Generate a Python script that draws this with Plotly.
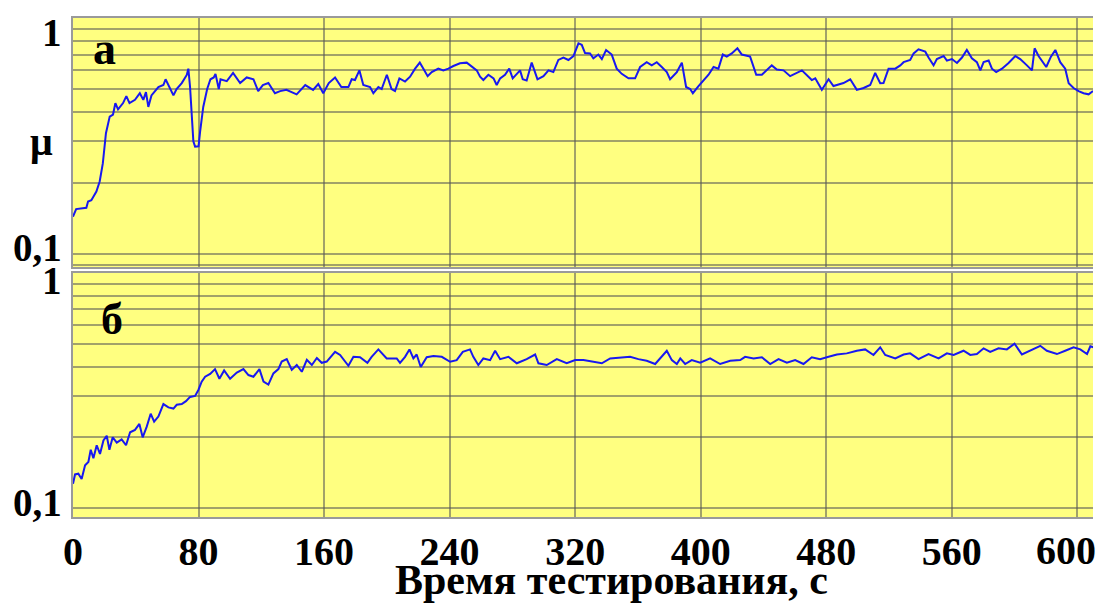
import plotly.graph_objects as go

# ---- data ----
t_a = [0, 2, 8.5, 9.6, 11.7, 14.9, 17, 19, 21, 23.4, 25.5, 27, 28.7, 31.9, 34, 36, 39.5, 42.6, 44.8, 46.5,
       48, 50, 54.4, 57.6, 59, 61.8, 64, 66, 69.3, 72.5, 73.5, 74.6, 75.7, 76.7, 77.8, 80, 81, 83, 85.5, 87.6,
       89.7, 90.8, 92.9, 94, 98, 102, 106.5, 110.7, 115, 118, 121, 124.5, 128.7, 132, 136, 142.5, 148, 153,
       156.3, 159.5, 163, 167, 171, 175.5, 177.6, 179.7, 182.5, 185, 189.3, 191.4, 194.6, 196.7, 200, 203,
       205.2, 208, 211.6, 214.8, 218, 221, 223.3, 226, 228.6, 232.8, 236, 239.2, 242.4, 246.6, 250.9, 254,
       257.3, 259.4, 261.5, 264.7, 268, 270, 272.2, 275.3, 278, 280.2, 284.9, 286.6, 289.1, 292.3, 296,
       299.8, 303, 306.1, 309.3, 312.5, 315.7, 318.9, 322.1, 324.2, 326.3, 329.5, 331.6, 334.8, 337, 339.7,
       343.3, 346.5, 349.7, 354, 358.2, 361.4, 365.6, 368.8, 372, 375.2, 378.4, 380.5, 384.8, 388, 390.7,
       393.3, 395, 398.6, 401.8, 405, 408.2, 411.3, 414.1, 416.6, 419.8, 423.4, 426.2, 431.5, 435.4, 439,
       445.3, 448.5, 452.8, 457, 464.5, 467.6, 470.8, 473, 477.2, 481.5, 484.6, 491, 495.3, 499.5, 503.8,
       508, 511.2, 514.4, 516.5, 519.7, 524, 527.2, 529.3, 533.5, 535.7, 538.8, 543.1, 545.2, 548.4, 550.5,
       554.8, 556.9, 560.1, 563.3, 566.5, 569.6, 572.8, 576, 578.2, 580.3, 583.5, 585.6, 588.3, 592, 596.2,
       600.5, 603.6, 607.9, 611.1, 612.8, 615.3, 620.2, 623.2, 626, 629.1, 632.3, 634.5, 637.6, 640.8, 644,
       647.2, 650]
mu_a = [0.144, 0.155, 0.157, 0.167, 0.169, 0.184, 0.203, 0.242, 0.325, 0.382, 0.39, 0.436, 0.41, 0.436,
        0.467, 0.436, 0.45, 0.48, 0.45, 0.485, 0.42, 0.47, 0.51, 0.52, 0.55, 0.50, 0.47, 0.50, 0.53, 0.574,
        0.61, 0.51, 0.37, 0.30, 0.285, 0.286, 0.33, 0.42, 0.50, 0.55, 0.56, 0.58, 0.50, 0.55, 0.54, 0.585,
        0.53, 0.56, 0.55, 0.49, 0.52, 0.53, 0.48, 0.49, 0.496, 0.475, 0.52, 0.496, 0.525, 0.48, 0.53, 0.56,
        0.51, 0.51, 0.55, 0.546, 0.60, 0.52, 0.51, 0.48, 0.51, 0.50, 0.575, 0.50, 0.49, 0.555, 0.538, 0.564,
        0.61, 0.647, 0.61, 0.567, 0.59, 0.61, 0.60, 0.61, 0.626, 0.643, 0.647, 0.626, 0.60, 0.564, 0.546,
        0.575, 0.555, 0.52, 0.555, 0.575, 0.61, 0.555, 0.60, 0.55, 0.543, 0.647, 0.55, 0.567, 0.60, 0.59,
        0.664, 0.68, 0.664, 0.69, 0.781, 0.77, 0.71, 0.708, 0.675, 0.70, 0.67, 0.732, 0.70, 0.61, 0.58,
        0.555, 0.555, 0.62, 0.65, 0.63, 0.65, 0.62, 0.59, 0.55, 0.59, 0.647, 0.51, 0.50, 0.48, 0.515, 0.546,
        0.575, 0.62, 0.61, 0.70, 0.686, 0.708, 0.744, 0.70, 0.686, 0.575, 0.575, 0.63, 0.605, 0.60, 0.567,
        0.60, 0.575, 0.546, 0.555, 0.496, 0.55, 0.515, 0.53, 0.55, 0.496, 0.505, 0.52, 0.585, 0.529, 0.53,
        0.61, 0.61, 0.63, 0.65, 0.664, 0.708, 0.737, 0.72, 0.68, 0.63, 0.67, 0.69, 0.66, 0.67, 0.645, 0.68,
        0.732, 0.675, 0.65, 0.60, 0.65, 0.66, 0.61, 0.59, 0.61, 0.645, 0.69, 0.67, 0.63, 0.60, 0.744, 0.69,
        0.62, 0.686, 0.732, 0.65, 0.61, 0.529, 0.505, 0.49, 0.48, 0.475, 0.49]

t_b = [0, 1.3, 3.4, 5.5, 7.7, 9.8, 11.3, 13, 15.1, 17.2, 19.4, 21.5, 23.2, 25.3, 27.9, 31, 33.8, 36.4,
       39.5, 42.3, 44.4, 47, 49.5, 51.7, 54.4, 57.6, 60.8, 64, 66.1, 69.3, 72, 74.6, 77.8, 79.9, 82, 84.2,
       87.4, 90.5, 93.3, 96.3, 100.1, 104.4, 108.6, 111.8, 115, 118.8, 121.4, 124.5, 127.7, 130.9, 133,
       136.2, 139.4, 142.6, 145.8, 149, 152.2, 155.4, 158.5, 161.7, 167, 170.2, 175.5, 178.7, 182.9, 187.6,
       190.3, 194.6, 199.9, 206.3, 208.4, 211.6, 214.4, 216.9, 219, 221.6, 225.4, 229.7, 235, 240.3, 244.5,
       248.4, 253, 255.1, 258.3, 261.5, 265.8, 269, 272.2, 277.5, 282.8, 289.1, 294.5, 296.6, 301.9, 308.3,
       314.6, 320, 325.3, 331.6, 337, 342.3, 348.7, 355, 360.3, 365.6, 371, 375.2, 378.4, 381.6, 384.8,
       387, 390.1, 394.3, 399.7, 406, 412.4, 418.8, 425.2, 428.3, 433.7, 439, 444.3, 449.6, 454.9, 460.2,
       465.5, 470.8, 476.1, 481.5, 486.8, 493.1, 499.5, 504.8, 510.1, 514.4, 517.6, 524, 529.3, 533.5,
       538.8, 545.2, 551.6, 556.9, 561.2, 567.5, 571.8, 576, 580.3, 584.5, 589.8, 595.1, 600, 604.7, 610,
       616.4, 620.6, 627, 632.3, 637.6, 641.9, 646.2, 648.3, 650.4]
mu_b = [0.127, 0.139, 0.14, 0.133, 0.152, 0.157, 0.177, 0.163, 0.185, 0.17, 0.194, 0.203, 0.177, 0.20,
        0.19, 0.196, 0.185, 0.21, 0.215, 0.228, 0.20, 0.222, 0.252, 0.233, 0.245, 0.277, 0.268, 0.265,
        0.275, 0.277, 0.285, 0.297, 0.30, 0.318, 0.345, 0.362, 0.372, 0.39, 0.355, 0.385, 0.355, 0.377,
        0.39, 0.368, 0.362, 0.39, 0.345, 0.335, 0.374, 0.39, 0.42, 0.43, 0.387, 0.406, 0.38, 0.427, 0.406,
        0.435, 0.415, 0.42, 0.462, 0.448, 0.403, 0.44, 0.438, 0.415, 0.44, 0.473, 0.433, 0.433, 0.415,
        0.44, 0.473, 0.433, 0.45, 0.398, 0.438, 0.443, 0.44, 0.419, 0.426, 0.462, 0.473, 0.44, 0.406,
        0.433, 0.426, 0.467, 0.43, 0.44, 0.413, 0.43, 0.45, 0.413, 0.406, 0.43, 0.413, 0.426, 0.426,
        0.419, 0.413, 0.433, 0.438, 0.44, 0.43, 0.423, 0.41, 0.44, 0.467, 0.426, 0.41, 0.433, 0.41, 0.426,
        0.415, 0.433, 0.41, 0.423, 0.426, 0.44, 0.433, 0.438, 0.41, 0.43, 0.415, 0.426, 0.41, 0.438, 0.43,
        0.44, 0.45, 0.455, 0.467, 0.473, 0.448, 0.483, 0.448, 0.433, 0.45, 0.455, 0.43, 0.452, 0.433,
        0.455, 0.448, 0.467, 0.448, 0.452, 0.478, 0.462, 0.478, 0.473, 0.50, 0.45, 0.467, 0.49, 0.467,
        0.452, 0.467, 0.483, 0.473, 0.452, 0.488, 0.483]

x_tickvals = [0, 80, 160, 240, 320, 400, 480, 560, 640]
x_ticktext = ["0", "80", "160", "240", "320", "400", "480", "560", ""]
last_tick_label = "600"   # printed beside the last gridline, as in the source figure
y_gridvals = [0.09, 0.1, 0.2, 0.3, 0.4, 0.5, 0.6, 0.7, 0.8, 0.9, 1.0]
panel_labels = ["а", "б"]
y_label = "μ"
x_title = "Время тестирования, с"

# ---- styles ----
FONT = "Liberation Serif"
BG = "#ffff80"
GRID = "rgba(85,85,85,0.55)"
LINE = "#1818f0"

fig = go.Figure()
fig.add_trace(go.Scatter(x=t_a, y=mu_a, mode="lines", line=dict(color=LINE, width=2),
                         xaxis="x", yaxis="y", showlegend=False))
fig.add_trace(go.Scatter(x=t_b, y=mu_b, mode="lines", line=dict(color=LINE, width=2),
                         xaxis="x2", yaxis="y2", showlegend=False))

xcommon = dict(range=[0, 650], tickvals=x_tickvals, showgrid=True, gridcolor=GRID, gridwidth=1.5,
               zeroline=False, ticks="", showline=True, linecolor="#9a9a9a", linewidth=1.5, mirror=True,
               automargin=False)
ycommon = dict(type="log", tickvals=y_gridvals, showticklabels=False, showgrid=True, gridcolor=GRID,
               gridwidth=1.5, zeroline=False, ticks="", showline=True, linecolor="#9a9a9a", linewidth=1.5,
               automargin=False)

tick_font = dict(family=FONT, size=40, color="black", weight="bold")
fig.update_layout(
    width=1105, height=603,
    margin=dict(l=73, r=12, t=18, b=86, autoexpand=False),
    paper_bgcolor="white", plot_bgcolor=BG,
    xaxis=dict(**xcommon, anchor="y", showticklabels=False),
    yaxis=dict(**ycommon, domain=[0.501, 1.0], range=[-1.055, 0]),
    xaxis2=dict(**xcommon, anchor="y2", ticktext=x_ticktext, showticklabels=True,
                ticklabelstandoff=-2, tickfont=tick_font),
    yaxis2=dict(**ycommon, domain=[0.0, 0.489], range=[-1.038, 0]),
)

lab_font = dict(family=FONT, size=39, color="black", weight="bold")
ann = []
# y tick labels
for yref, yv, txt, ys in [("y", 0, "1", -14), ("y", -1, "0,1", 7), ("y2", 0, "1", -8), ("y2", -1, "0,1", 6)]:
    ann.append(dict(xref="paper", x=0, xanchor="right", xshift=-9, yref=yref, y=yv, yanchor="middle",
                    yshift=ys, text=txt, showarrow=False, font=lab_font))
# last x tick label, nudged left so it stays inside the picture
ann.append(dict(xref="x2", x=x_tickvals[-1], xanchor="center", xshift=-11, yref="paper", y=-0.068,
                yanchor="middle", text=last_tick_label, showarrow=False, font=tick_font))
ann.append(dict(xref="paper", x=0.031, yref="paper", y=0.938, xanchor="center", yanchor="middle",
                text=panel_labels[0], showarrow=False,
                font=dict(family=FONT, size=46, color="black", weight="bold")))
ann.append(dict(xref="paper", x=0.038, yref="paper", y=0.395, xanchor="center", yanchor="middle",
                text=panel_labels[1], showarrow=False,
                font=dict(family=FONT, size=44, color="black", weight="bold")))
ann.append(dict(xref="paper", x=-0.031, yref="paper", y=0.753, xanchor="center", yanchor="middle",
                text=y_label, showarrow=False,
                font=dict(family=FONT, size=40, color="black", weight="bold")))
ann.append(dict(xref="paper", x=0.528, yref="paper", y=-0.127, xanchor="center", yanchor="middle",
                text=x_title, showarrow=False,
                font=dict(family=FONT, size=42, color="black", weight="bold")))
fig.update_layout(annotations=ann)

fig.write_html("out.html")
